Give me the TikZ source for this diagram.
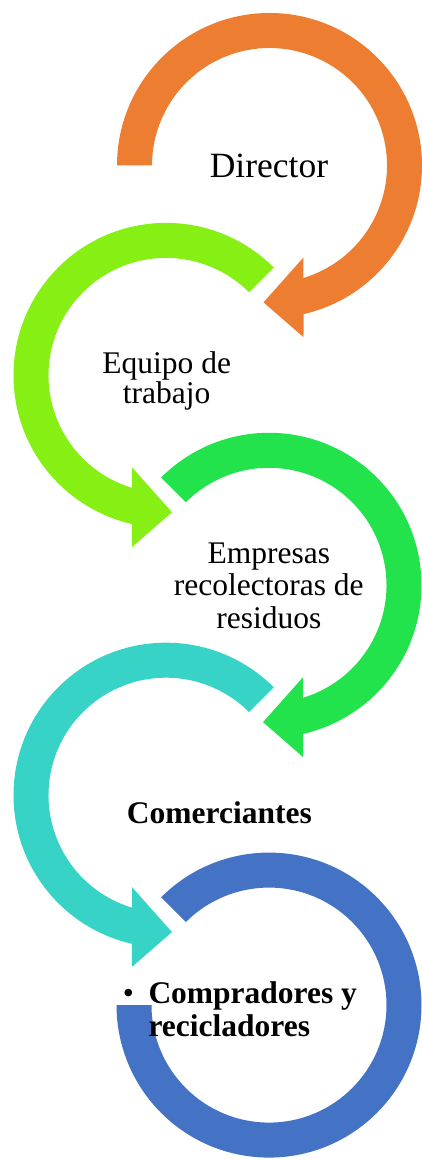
\documentclass[tikz,border=0pt]{standalone}
\usepackage{fontspec}
\setmainfont{Liberation Serif}
\definecolor{corange}{HTML}{ED7D31}
\definecolor{clime}{HTML}{86EF14}
\definecolor{cgreen}{HTML}{23E34D}
\definecolor{ccyan}{HTML}{36D3C6}
\definecolor{cblue}{HTML}{4472C4}
\tikzset{
  txt/.style={inner sep=0pt, text=black},
  reg/.style={font=\fontsize{31.5}{33}\selectfont},
  bld/.style={font=\fontsize{31.5}{33}\selectfont\bfseries},
}
\begin{document}
\begin{tikzpicture}[x=1pt,y=1pt]
\useasboundingbox (0,0) rectangle (422,1160);
% ring centres
\coordinate (c1) at (269.5,994.5);
\coordinate (c2) at (166,784.6);
\coordinate (c3) at (269,574.7);
\coordinate (c4) at (166,364.8);
\coordinate (c5) at (269,154.9);
% orange ring (right, starts at left)
\fill[corange, shift={(c1)}] (180:152.5pt) arc[start angle=180,end angle=-77.1,radius=152.5pt]
  -- (-78.8:175pt) -- (-92.5:137pt) -- (-69.7:98pt) -- (-73.2:117.5pt)
  arc[start angle=-73.2,end angle=180,radius=117.5pt] -- cycle;
% lime ring (left)
\fill[clime, shift={(c2)}] (45:152.5pt) arc[start angle=45,end angle=257.1,radius=152.5pt]
  -- (258.8:175pt) -- (272.5:137pt) -- (249.7:98pt) -- (253.2:117.5pt)
  arc[start angle=253.2,end angle=45,radius=117.5pt] -- cycle;
% green ring (right)
\fill[cgreen, shift={(c3)}] (135:152.5pt) arc[start angle=135,end angle=-77.1,radius=152.5pt]
  -- (-78.8:175pt) -- (-92.5:137pt) -- (-69.7:98pt) -- (-73.2:117.5pt)
  arc[start angle=-73.2,end angle=135,radius=117.5pt] -- cycle;
% cyan ring (left)
\fill[ccyan, shift={(c4)}] (45:152.5pt) arc[start angle=45,end angle=257.1,radius=152.5pt]
  -- (258.8:175pt) -- (272.5:137pt) -- (249.7:98pt) -- (253.2:117.5pt)
  arc[start angle=253.2,end angle=45,radius=117.5pt] -- cycle;
% blue ring (right, no arrow head)
\fill[cblue, shift={(c5)}] (135:152.5pt) arc[start angle=135,end angle=-180,radius=152.5pt]
  -- (-180:117.5pt) arc[start angle=-180,end angle=135,radius=117.5pt] -- cycle;
% texts
\node[txt, font=\fontsize{35.5}{38}\selectfont, anchor=base] (t1) at (269,982.7) {Director};
\node[txt, reg, anchor=base] (t2a) at (166.7,786.7) {Equipo de};
\node[txt, reg, anchor=base] (t2b) at (166.7,756.7) {trabajo};
\node[txt, reg, anchor=base] (t3a) at (268.8,596.5) {Empresas};
\node[txt, reg, anchor=base] (t3b) at (268.8,564) {recolectoras de};
\node[txt, reg, anchor=base] (t3c) at (268.8,531.5) {residuos};
\node[txt, bld, anchor=base west] (t4) at (126.7,336) {Comerciantes};
\node[txt, reg, anchor=base] (t5b) at (128.5,156.7) {•};
\node[txt, bld, anchor=base west] (t5a) at (148.3,156.7) {Compradores y};
\node[txt, bld, anchor=base west] (t5c) at (148.3,123.3) {recicladores};
\end{tikzpicture}
\end{document}
